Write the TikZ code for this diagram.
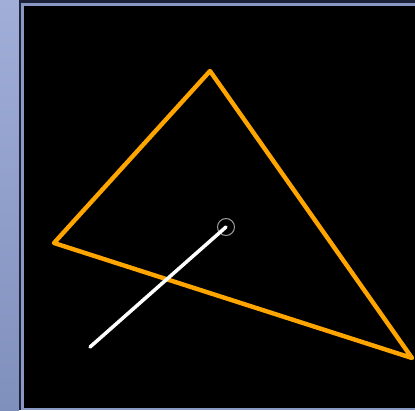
\documentclass[tikz,border=0pt]{standalone}
\usepackage{xcolor}
\usepackage{tikz}

\definecolor{stripTop}{HTML}{A0AED8}
\definecolor{stripBot}{HTML}{8090BC}
\definecolor{frameDark}{HTML}{1E2238}
\definecolor{frameLight}{HTML}{8A98C4}
\definecolor{edgeOrange}{HTML}{FFA500}

\begin{document}
\begin{tikzpicture}[
    x=0.02cm,y=-0.02cm,
    edge/.style={draw=edgeOrange,line width=2.5pt,line join=round},
    pointer/.style={draw=white,line width=2pt,line cap=round},
    handle/.style={circle,draw=gray!80,line width=0.6pt,minimum size=0.34cm,inner sep=0pt}
]
\useasboundingbox (0,0) rectangle (415,410);
% window background
\shade[top color=stripTop,bottom color=stripBot] (0,0) rectangle (19,410);
\fill[frameDark] (19,0) rectangle (415,410);
\fill[frameLight] (21,3) rectangle (415,410);
\fill[black] (23.5,6) rectangle (415,407.5);
% triangle
\coordinate (top) at (210,71);
\coordinate (left) at (54,243);
\coordinate (right) at (412,358);
\draw[edge] (top) -- (left) -- (right) -- cycle;
% pointer
\coordinate (tail) at (90,347);
\node[handle] (tip) at (226,227) {};
\draw[pointer] (tail) -- (tip.center);
\end{tikzpicture}
\end{document}
